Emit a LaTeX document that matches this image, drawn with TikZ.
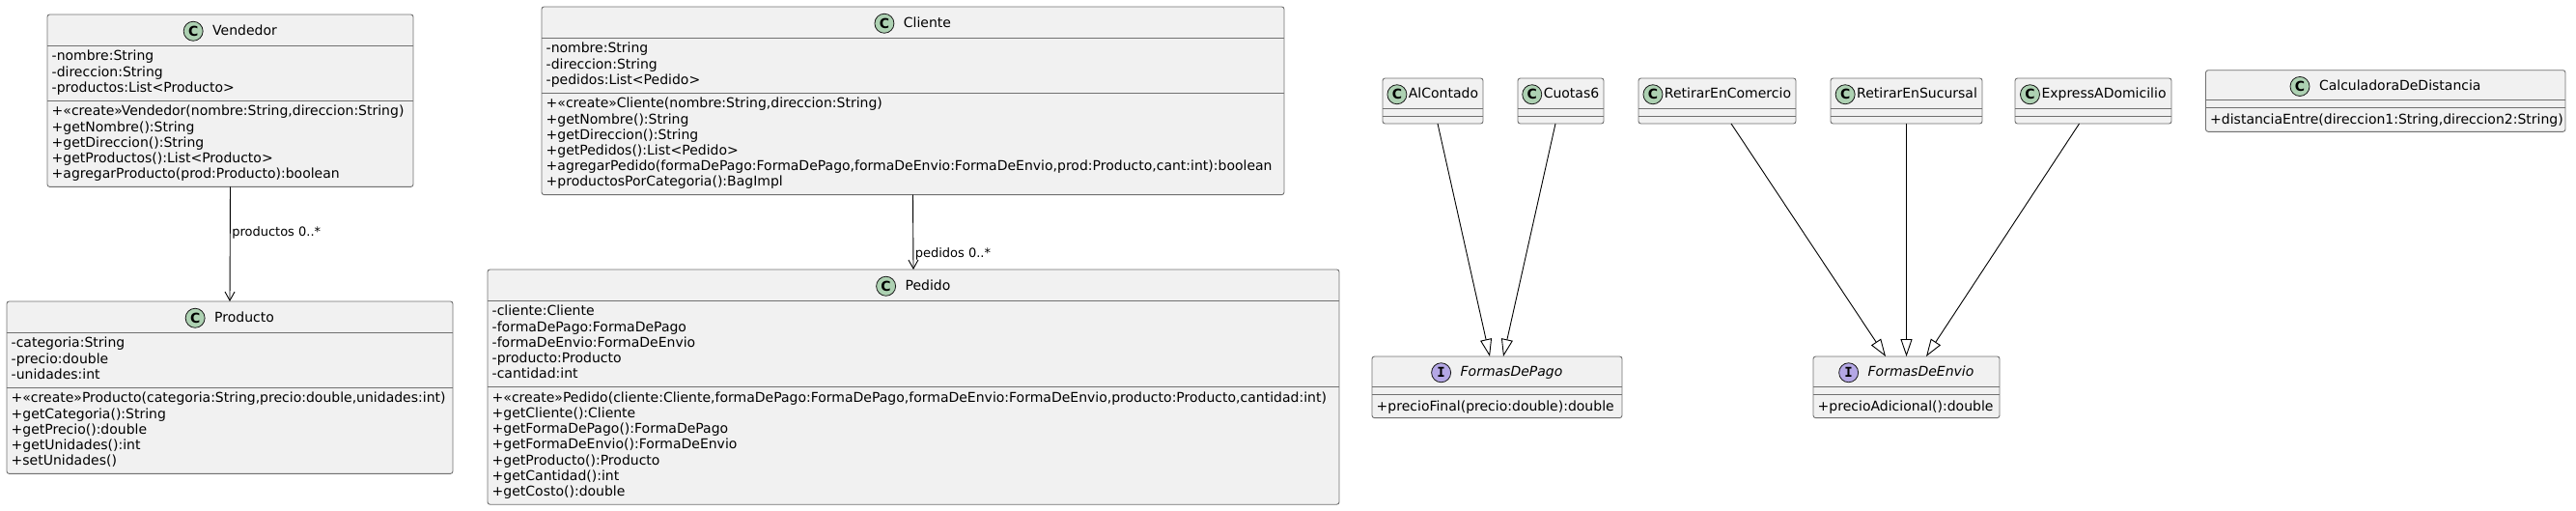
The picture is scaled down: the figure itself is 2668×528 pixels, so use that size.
\documentclass[tikz,border=0pt]{standalone}
\usepackage{fontspec}
\setmainfont{DejaVu Sans}
\newfontfamily\umlmono{DejaVu Sans Mono}
\usetikzlibrary{positioning,arrows.meta}

\definecolor{boxfill}{HTML}{F1F1F1}
\definecolor{boxline}{HTML}{707070}
\definecolor{classicon}{HTML}{ADD1B2}
\definecolor{ifaceicon}{HTML}{B4A7E5}
\definecolor{iconline}{HTML}{181818}

\tikzset{
  classbox/.style={draw=boxline, fill=boxfill, line width=0.9pt, rounded corners=2.5pt,
    inner sep=0pt, outer sep=0pt, anchor=north west},
  divider/.style={draw=boxline, line width=0.9pt},
  classname/.style={anchor=base, inner sep=0pt, outer sep=0pt, text height=10.5pt,
    text depth=3pt, font=\fontsize{14}{16}\selectfont},
  ifacename/.style={classname, font=\fontsize{14}{16}\selectfont\itshape},
  cicon/.style={circle, draw=iconline, fill=classicon, line width=0.8pt, minimum size=20pt,
    inner sep=0pt, outer sep=0pt, font=\fontsize{14}{14}\selectfont\bfseries},
  iicon/.style={cicon, fill=ifaceicon, font=\fontsize{14}{14}\selectfont\umlmono\bfseries},
  members/.style={anchor=north west, inner sep=0pt, align=left,
    font=\fontsize{14}{16.2}\selectfont, execute at begin node={\rule{0pt}{12pt}}},
  assoc/.style={line width=0.9pt, -{Straight Barb[length=9pt,width=10pt]}},
  realize/.style={line width=0.9pt, -{Triangle[open,length=18pt,width=12pt]}},
  edgelabel/.style={anchor=west, inner sep=1.5pt, font=\fontsize{13}{15}\selectfont}
}

\begin{document}
\begin{tikzpicture}[x=1pt, y=-1pt]
  \useasboundingbox (0,0) rectangle (2668,528);

  % Vendedor
  \node[classbox, minimum width=379pt, minimum height=178.4pt] (vend) at (49,15) {};
  \draw[divider] ([yshift=-32pt]vend.north west) -- ([yshift=-32pt]vend.north east);
  \draw[divider] ([yshift=-89pt]vend.north west) -- ([yshift=-89pt]vend.north east);
  \node[classname] (vend-n) at ([xshift=15pt,yshift=-21pt]vend.north) {Vendedor};
  \node[cicon, left=10pt of vend-n] (vend-c) {C};
  \node[members] (vend-a) at ([xshift=4.5pt,yshift=-37pt]vend.north west)
    {-nombre:String\\-direccion:String\\-productos:List<Producto>};
  \node[members] (vend-m) at ([xshift=4.5pt,yshift=-94pt]vend.north west)
    {+«create»Vendedor(nombre:String,direccion:String)\\+getNombre():String\\
     +getDireccion():String\\+getProductos():List<Producto>\\
     +agregarProducto(prod:Producto):boolean};

  % Producto
  \node[classbox, minimum width=462pt, minimum height=178.4pt] (prod) at (7,312) {};
  \draw[divider] ([yshift=-32pt]prod.north west) -- ([yshift=-32pt]prod.north east);
  \draw[divider] ([yshift=-89pt]prod.north west) -- ([yshift=-89pt]prod.north east);
  \node[classname] (prod-n) at ([xshift=15pt,yshift=-21pt]prod.north) {Producto};
  \node[cicon, left=10pt of prod-n] (prod-c) {C};
  \node[members] (prod-a) at ([xshift=4.5pt,yshift=-37pt]prod.north west)
    {-categoria:String\\-precio:double\\-unidades:int};
  \node[members] (prod-m) at ([xshift=4.5pt,yshift=-94pt]prod.north west)
    {+«create»Producto(categoria:String,precio:double,unidades:int)\\
     +getCategoria():String\\+getPrecio():double\\+getUnidades():int\\+setUnidades()};

  % Cliente
  \node[classbox, minimum width=769pt, minimum height=194.6pt] (cli) at (561,7) {};
  \draw[divider] ([yshift=-32pt]cli.north west) -- ([yshift=-32pt]cli.north east);
  \draw[divider] ([yshift=-89pt]cli.north west) -- ([yshift=-89pt]cli.north east);
  \node[classname] (cli-n) at ([xshift=15pt,yshift=-21pt]cli.north) {Cliente};
  \node[cicon, left=10pt of cli-n] (cli-c) {C};
  \node[members] (cli-a) at ([xshift=4.5pt,yshift=-37pt]cli.north west)
    {-nombre:String\\-direccion:String\\-pedidos:List<Pedido>};
  \node[members] (cli-m) at ([xshift=4.5pt,yshift=-94pt]cli.north west)
    {+«create»Cliente(nombre:String,direccion:String)\\+getNombre():String\\
     +getDireccion():String\\+getPedidos():List<Pedido>\\
     +agregarPedido(formaDePago:FormaDePago,formaDeEnvio:FormaDeEnvio,prod:Producto,cant:int):boolean\\
     +productosPorCategoria():BagImpl};

  % Pedido
  \node[classbox, minimum width=882pt, minimum height=243.2pt] (ped) at (505,279) {};
  \draw[divider] ([yshift=-32pt]ped.north west) -- ([yshift=-32pt]ped.north east);
  \draw[divider] ([yshift=-121.4pt]ped.north west) -- ([yshift=-121.4pt]ped.north east);
  \node[classname] (ped-n) at ([xshift=15pt,yshift=-21pt]ped.north) {Pedido};
  \node[cicon, left=10pt of ped-n] (ped-c) {C};
  \node[members] (ped-a) at ([xshift=4.5pt,yshift=-37pt]ped.north west)
    {-cliente:Cliente\\-formaDePago:FormaDePago\\-formaDeEnvio:FormaDeEnvio\\
     -producto:Producto\\-cantidad:int};
  \node[members] (ped-m) at ([xshift=4.5pt,yshift=-126.4pt]ped.north west)
    {+«create»Pedido(cliente:Cliente,formaDePago:FormaDePago,formaDeEnvio:FormaDeEnvio,producto:Producto,cantidad:int)\\
     +getCliente():Cliente\\+getFormaDePago():FormaDePago\\+getFormaDeEnvio():FormaDeEnvio\\
     +getProducto():Producto\\+getCantidad():int\\+getCosto():double};

  % formas de pago
  \node[classbox, minimum width=104pt, minimum height=47pt] (alc) at (1432,81) {};
  \draw[divider] ([yshift=-31pt]alc.north west) -- ([yshift=-31pt]alc.north east);
  \draw[divider] ([yshift=-39pt]alc.north west) -- ([yshift=-39pt]alc.north east);
  \node[classname] (alc-n) at ([xshift=11pt,yshift=-20.5pt]alc.north) {AlContado};
  \node[cicon, left=2pt of alc-n] (alc-c) {C};

  \node[classbox, minimum width=89pt, minimum height=47pt] (cuo) at (1572,81) {};
  \draw[divider] ([yshift=-31pt]cuo.north west) -- ([yshift=-31pt]cuo.north east);
  \draw[divider] ([yshift=-39pt]cuo.north west) -- ([yshift=-39pt]cuo.north east);
  \node[classname] (cuo-n) at ([xshift=11pt,yshift=-20.5pt]cuo.north) {Cuotas6};
  \node[cicon, left=2pt of cuo-n] (cuo-c) {C};

  \node[classbox, minimum width=259pt, minimum height=63.6pt] (fdp) at (1421,369) {};
  \draw[divider] ([yshift=-31pt]fdp.north west) -- ([yshift=-31pt]fdp.north east);
  \draw[divider] ([yshift=-39pt]fdp.north west) -- ([yshift=-39pt]fdp.north east);
  \node[ifacename] (fdp-n) at ([xshift=15pt,yshift=-20.5pt]fdp.north) {FormasDePago};
  \node[iicon, left=10pt of fdp-n] (fdp-c) {I};
  \node[members] (fdp-m) at ([xshift=4.5pt,yshift=-44pt]fdp.north west)
    {+precioFinal(precio:double):double};

  % formas de envio
  \node[classbox, minimum width=163pt, minimum height=47pt] (rec) at (1697,81) {};
  \draw[divider] ([yshift=-31pt]rec.north west) -- ([yshift=-31pt]rec.north east);
  \draw[divider] ([yshift=-39pt]rec.north west) -- ([yshift=-39pt]rec.north east);
  \node[classname] (rec-n) at ([xshift=11pt,yshift=-20.5pt]rec.north) {RetirarEnComercio};
  \node[cicon, left=2pt of rec-n] (rec-c) {C};

  \node[classbox, minimum width=157pt, minimum height=47pt] (res) at (1896,81) {};
  \draw[divider] ([yshift=-31pt]res.north west) -- ([yshift=-31pt]res.north east);
  \draw[divider] ([yshift=-39pt]res.north west) -- ([yshift=-39pt]res.north east);
  \node[classname] (res-n) at ([xshift=11pt,yshift=-20.5pt]res.north) {RetirarEnSucursal};
  \node[cicon, left=2pt of res-n] (res-c) {C};

  \node[classbox, minimum width=162pt, minimum height=47pt] (exd) at (2087,81) {};
  \draw[divider] ([yshift=-31pt]exd.north west) -- ([yshift=-31pt]exd.north east);
  \draw[divider] ([yshift=-39pt]exd.north west) -- ([yshift=-39pt]exd.north east);
  \node[classname] (exd-n) at ([xshift=11pt,yshift=-20.5pt]exd.north) {ExpressADomicilio};
  \node[cicon, left=2pt of exd-n] (exd-c) {C};

  \node[classbox, minimum width=193pt, minimum height=63.6pt] (fde) at (1878,369) {};
  \draw[divider] ([yshift=-31pt]fde.north west) -- ([yshift=-31pt]fde.north east);
  \draw[divider] ([yshift=-39pt]fde.north west) -- ([yshift=-39pt]fde.north east);
  \node[ifacename] (fde-n) at ([xshift=15pt,yshift=-20.5pt]fde.north) {FormasDeEnvio};
  \node[iicon, left=10pt of fde-n] (fde-c) {I};
  \node[members] (fde-m) at ([xshift=4.5pt,yshift=-44pt]fde.north west)
    {+precioAdicional():double};

  % CalculadoraDeDistancia
  \node[classbox, minimum width=372.5pt, minimum height=63.6pt] (cdd) at (2284.5,72.7) {};
  \draw[divider] ([yshift=-31pt]cdd.north west) -- ([yshift=-31pt]cdd.north east);
  \draw[divider] ([yshift=-39pt]cdd.north west) -- ([yshift=-39pt]cdd.north east);
  \node[classname] (cdd-n) at ([xshift=15pt,yshift=-20.5pt]cdd.north) {CalculadoraDeDistancia};
  \node[cicon, left=10pt of cdd-n] (cdd-c) {C};
  \node[members] (cdd-m) at ([xshift=4.5pt,yshift=-44pt]cdd.north west)
    {+distanciaEntre(direccion1:String,direccion2:String)};

  % associations
  \draw[assoc] (vend.south) -- (prod.north) node[edgelabel, pos=0.4] {productos 0..*};
  \draw[assoc] (cli.south) -- (ped.north) node[edgelabel, pos=0.79] {pedidos 0..*};

  % realizations
  \draw[realize] ([xshift=5pt]alc.south) -- ([xshift=-7.5pt]fdp.north);
  \draw[realize] ([xshift=-5.5pt]cuo.south) -- ([xshift=6.5pt]fdp.north);
  \draw[realize] ([xshift=14.5pt]rec.south) -- ([xshift=-21.5pt]fde.north);
  \draw[realize] (res.south) -- (fde.north);
  \draw[realize] ([xshift=-14.5pt]exd.south) -- ([xshift=20.5pt]fde.north);
\end{tikzpicture}
\end{document}
